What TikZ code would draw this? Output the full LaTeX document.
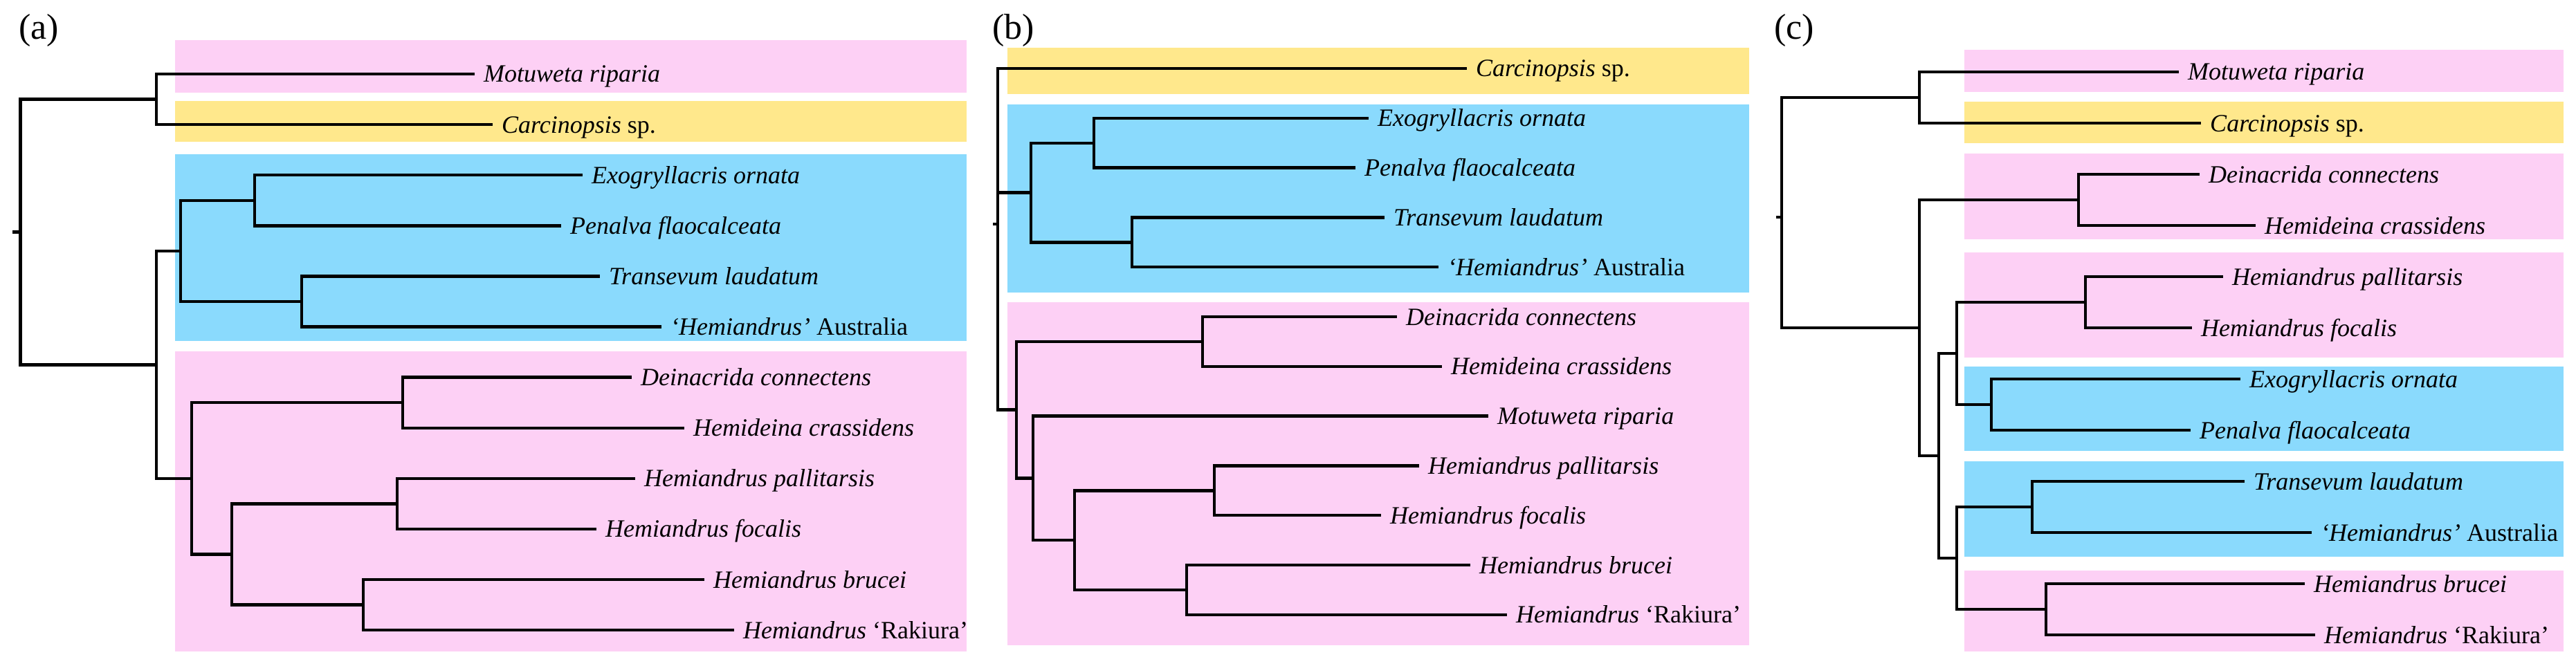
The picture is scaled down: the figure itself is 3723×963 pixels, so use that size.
\documentclass[tikz,border=0pt]{standalone}
\usepackage{fontspec}
\setmainfont{Liberation Serif}
\definecolor{cpink}{RGB}{253,208,245}
\definecolor{cyellow}{RGB}{255,232,140}
\definecolor{cblue}{RGB}{138,218,253}
\tikzset{
  br/.style={line width=4.4pt, black, line join=miter},
  tiplab/.style={anchor=base west, inner sep=0pt, xshift=13pt, yshift=-12pt, font=\fontsize{36}{43}\selectfont\itshape},
  plabel/.style={anchor=base west, inner sep=0pt, font=\fontsize{52}{60}\selectfont},
  pinkbox/.style={fill=cpink},
  yellowbox/.style={fill=cyellow},
  bluebox/.style={fill=cblue}
}
\begin{document}
\begin{tikzpicture}[x=1pt,y=-1pt]
\useasboundingbox (0,0) rectangle (3723,963);
% ---------------- backgrounds
\fill[pinkbox]   (253,58)  rectangle (1397,134);
\fill[yellowbox] (253,146) rectangle (1397,205);
\fill[bluebox]   (253,223) rectangle (1397,493);
\fill[pinkbox]   (253,508) rectangle (1397,942);
\fill[yellowbox] (1456,69)  rectangle (2528,136);
\fill[bluebox]   (1456,151) rectangle (2528,423);
\fill[pinkbox]   (1456,437) rectangle (2528,933);
\fill[pinkbox]   (2839,72)  rectangle (3705,133);
\fill[yellowbox] (2839,147) rectangle (3705,207);
\fill[pinkbox]   (2839,222) rectangle (3705,346);
\fill[pinkbox]   (2839,365) rectangle (3705,517);
\fill[bluebox]   (2839,530) rectangle (3705,652);
\fill[bluebox]   (2839,667) rectangle (3705,805);
\fill[pinkbox]   (2839,825) rectangle (3705,942);
% ---------------- panel labels
\node[plabel] (la) at (27,57) {(a)};
\node[plabel] (lb) at (1434,57) {(b)};
\node[plabel] (lc) at (2564,57) {(c)};

% ================= panel (a)
\coordinate (a0) at (29.5,335.4);
\coordinate (a0t) at (18,335.4);
\coordinate (a1) at (226,143.55);
\coordinate (a2) at (226,527.3);
\coordinate (a3) at (261,362.85);
\coordinate (a4) at (277,691.8);
\coordinate (a5) at (368,289.75);
\coordinate (a6) at (436,435.95);
\coordinate (a7) at (582,582.15);
\coordinate (a8) at (335,801.45);
\coordinate (a9) at (574,728.35);
\coordinate (a10) at (525,874.55);
\coordinate (aMot) at (686,107);
\coordinate (aCar) at (712,180.1);
\coordinate (aExo) at (842,253.2);
\coordinate (aPen) at (811,326.3);
\coordinate (aTra) at (867,399.4);
\coordinate (aAus) at (956,472.5);
\coordinate (aDei) at (913,545.6);
\coordinate (aHmd) at (989,618.7);
\coordinate (aPal) at (918,691.8);
\coordinate (aFoc) at (862,764.9);
\coordinate (aBru) at (1018,838);
\coordinate (aRak) at (1061,911.1);
\draw[br] (a0) -- (a0t);
\draw[br] (a0) |- (a1);  \draw[br] (a0) |- (a2);
\draw[br] (a1) |- (aMot); \draw[br] (a1) |- (aCar);
\draw[br] (a2) |- (a3);  \draw[br] (a2) |- (a4);
\draw[br] (a3) |- (a5);  \draw[br] (a3) |- (a6);
\draw[br] (a5) |- (aExo); \draw[br] (a5) |- (aPen);
\draw[br] (a6) |- (aTra); \draw[br] (a6) |- (aAus);
\draw[br] (a4) |- (a7);  \draw[br] (a4) |- (a8);
\draw[br] (a7) |- (aDei); \draw[br] (a7) |- (aHmd);
\draw[br] (a8) |- (a9);  \draw[br] (a8) |- (a10);
\draw[br] (a9) |- (aPal); \draw[br] (a9) |- (aFoc);
\draw[br] (a10) |- (aBru); \draw[br] (a10) |- (aRak);
\node[tiplab] (taMot) at (aMot) {Motuweta riparia};
\node[tiplab] (taCar) at (aCar) {Carcinopsis\upshape{} sp.};
\node[tiplab] (taExo) at (aExo) {Exogryllacris ornata};
\node[tiplab] (taPen) at (aPen) {Penalva flaocalceata};
\node[tiplab] (taTra) at (aTra) {Transevum laudatum};
\node[tiplab] (taAus) at (aAus) {‘Hemiandrus’\upshape{} Australia};
\node[tiplab] (taDei) at (aDei) {Deinacrida connectens};
\node[tiplab] (taHmd) at (aHmd) {Hemideina crassidens};
\node[tiplab] (taPal) at (aPal) {Hemiandrus pallitarsis};
\node[tiplab] (taFoc) at (aFoc) {Hemiandrus focalis};
\node[tiplab] (taBru) at (aBru) {Hemiandrus brucei};
\node[tiplab] (taRak) at (aRak) {Hemiandrus\upshape{} ‘Rakiura’};

% ================= panel (b)
\coordinate (b0) at (1442,324);
\coordinate (b0t) at (1435,324);
\coordinate (b1) at (1490,278.5);
\coordinate (b2) at (1469,592.6);
\coordinate (b3) at (1581,206.7);
\coordinate (b4) at (1636,350.3);
\coordinate (b5) at (1738,493.9);
\coordinate (b6) at (1493,691.35);
\coordinate (b7) at (1553,781.1);
\coordinate (b8) at (1755,709.3);
\coordinate (b9) at (1715,852.9);
\coordinate (bCar) at (2120,99);
\coordinate (bExo) at (1978,170.8);
\coordinate (bPen) at (1959,242.6);
\coordinate (bTra) at (2001,314.4);
\coordinate (bAus) at (2079,386.2);
\coordinate (bDei) at (2019,458);
\coordinate (bHmd) at (2084,529.8);
\coordinate (bMot) at (2151,601.6);
\coordinate (bPal) at (2051,673.4);
\coordinate (bFoc) at (1996,745.2);
\coordinate (bBru) at (2125,817);
\coordinate (bRak) at (2178,888.8);
\draw[br] (b0) -- (b0t);
\draw[br] (b0) |- (bCar); \draw[br] (b0) |- (b1); \draw[br] (b0) |- (b2);
\draw[br] (b1) |- (b3);  \draw[br] (b1) |- (b4);
\draw[br] (b3) |- (bExo); \draw[br] (b3) |- (bPen);
\draw[br] (b4) |- (bTra); \draw[br] (b4) |- (bAus);
\draw[br] (b2) |- (b5);  \draw[br] (b2) |- (b6);
\draw[br] (b5) |- (bDei); \draw[br] (b5) |- (bHmd);
\draw[br] (b6) |- (bMot); \draw[br] (b6) |- (b7);
\draw[br] (b7) |- (b8);  \draw[br] (b7) |- (b9);
\draw[br] (b8) |- (bPal); \draw[br] (b8) |- (bFoc);
\draw[br] (b9) |- (bBru); \draw[br] (b9) |- (bRak);
\node[tiplab] (tbCar) at (bCar) {Carcinopsis\upshape{} sp.};
\node[tiplab] (tbExo) at (bExo) {Exogryllacris ornata};
\node[tiplab] (tbPen) at (bPen) {Penalva flaocalceata};
\node[tiplab] (tbTra) at (bTra) {Transevum laudatum};
\node[tiplab] (tbAus) at (bAus) {‘Hemiandrus’\upshape{} Australia};
\node[tiplab] (tbDei) at (bDei) {Deinacrida connectens};
\node[tiplab] (tbHmd) at (bHmd) {Hemideina crassidens};
\node[tiplab] (tbMot) at (bMot) {Motuweta riparia};
\node[tiplab] (tbPal) at (bPal) {Hemiandrus pallitarsis};
\node[tiplab] (tbFoc) at (bFoc) {Hemiandrus focalis};
\node[tiplab] (tbBru) at (bBru) {Hemiandrus brucei};
\node[tiplab] (tbRak) at (bRak) {Hemiandrus\upshape{} ‘Rakiura’};

% ================= panel (c)
\coordinate (c0) at (2575,314);
\coordinate (c0t) at (2567,314);
\coordinate (c1) at (2774,141);
\coordinate (c2) at (2774,474);
\coordinate (c3) at (3004,289);
\coordinate (c4) at (2802,659);
\coordinate (c5) at (2828,511);
\coordinate (c6) at (2828,807);
\coordinate (c7) at (3014,437);
\coordinate (c8) at (2878,585);
\coordinate (c9) at (2937,733);
\coordinate (c10) at (2957,881);
\coordinate (cMot) at (3149,104);
\coordinate (cCar) at (3181,178);
\coordinate (cDei) at (3179,252);
\coordinate (cHmd) at (3260,326);
\coordinate (cPal) at (3213,400);
\coordinate (cFoc) at (3168,474);
\coordinate (cExo) at (3238,548);
\coordinate (cPen) at (3166,622);
\coordinate (cTra) at (3244,696);
\coordinate (cAus) at (3341,770);
\coordinate (cBru) at (3331,844);
\coordinate (cRak) at (3346,918);
\draw[br] (c0) -- (c0t);
\draw[br] (c0) |- (c1);  \draw[br] (c0) |- (c2);
\draw[br] (c1) |- (cMot); \draw[br] (c1) |- (cCar);
\draw[br] (c2) |- (c3);  \draw[br] (c2) |- (c4);
\draw[br] (c3) |- (cDei); \draw[br] (c3) |- (cHmd);
\draw[br] (c4) |- (c5);  \draw[br] (c4) |- (c6);
\draw[br] (c5) |- (c7);  \draw[br] (c5) |- (c8);
\draw[br] (c7) |- (cPal); \draw[br] (c7) |- (cFoc);
\draw[br] (c8) |- (cExo); \draw[br] (c8) |- (cPen);
\draw[br] (c6) |- (c9);  \draw[br] (c6) |- (c10);
\draw[br] (c9) |- (cTra); \draw[br] (c9) |- (cAus);
\draw[br] (c10) |- (cBru); \draw[br] (c10) |- (cRak);
\node[tiplab] (tcMot) at (cMot) {Motuweta riparia};
\node[tiplab] (tcCar) at (cCar) {Carcinopsis\upshape{} sp.};
\node[tiplab] (tcDei) at (cDei) {Deinacrida connectens};
\node[tiplab] (tcHmd) at (cHmd) {Hemideina crassidens};
\node[tiplab] (tcPal) at (cPal) {Hemiandrus pallitarsis};
\node[tiplab] (tcFoc) at (cFoc) {Hemiandrus focalis};
\node[tiplab] (tcExo) at (cExo) {Exogryllacris ornata};
\node[tiplab] (tcPen) at (cPen) {Penalva flaocalceata};
\node[tiplab] (tcTra) at (cTra) {Transevum laudatum};
\node[tiplab] (tcAus) at (cAus) {‘Hemiandrus’\upshape{} Australia};
\node[tiplab] (tcBru) at (cBru) {Hemiandrus brucei};
\node[tiplab] (tcRak) at (cRak) {Hemiandrus\upshape{} ‘Rakiura’};
\end{tikzpicture}
\end{document}
